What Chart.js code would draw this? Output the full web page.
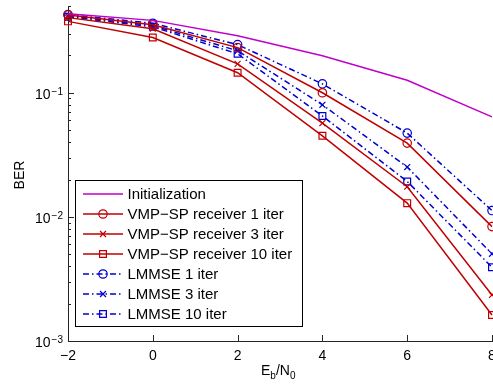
<!DOCTYPE html>
<html>
<head>
<meta charset="utf-8">
<script src="https://cdn.jsdelivr.net/npm/chart.js"></script>
<style>
    html, body { margin: 0; padding: 0; background: #fff; overflow: hidden; }
    #wrap { width: 510px; height: 384px; }
</style>
</head>
<body>
<div id="wrap"><canvas id="ber-graph" width="510" height="384"></canvas></div>
<script>
// Eb/N0 in dB
let snrDb = [-2, 0, 2, 4, 6, 8];

// BER curves
let berInit    = [0.434, 0.383, 0.288, 0.199, 0.126, 0.064];
let berVmp1    = [0.424, 0.353, 0.231, 0.100, 0.0393, 0.00835];
let berVmp3    = [0.403, 0.328, 0.171, 0.057, 0.0175, 0.00235];
let berVmp10   = [0.376, 0.279, 0.145, 0.045, 0.0129, 0.00162];
let berLmmse1  = [0.426, 0.363, 0.244, 0.118, 0.0473, 0.01125];
let berLmmse3  = [0.418, 0.347, 0.218, 0.080, 0.0252, 0.00504];
let berLmmse10 = [0.410, 0.340, 0.206, 0.065, 0.0193, 0.00393];

let yDecades = [1e-3, 1e-2, 1e-1];
let seriesLabels = [
    "Initialization",
    "VMP\u2212SP receiver 1 iter",
    "VMP\u2212SP receiver 3 iter",
    "VMP\u2212SP receiver 10 iter",
    "LMMSE 1 iter",
    "LMMSE 3 iter",
    "LMMSE 10 iter"
];

const FONT = "'Liberation Sans', Arial, Helvetica, sans-serif";
const AXIS_COLOR = "#262626";
const MAGENTA = "#c000c8";
const RED = "#c00000";
const BLUE = "#0000cd";
const DASHDOT = [6, 3, 1.5, 3];

function toPoints(vals) {
    return snrDb.map((x, i) => ({ x: x, y: vals[i] }));
}

function drawMarker(ctx, style, r, x, y) {
    ctx.beginPath();
    if (style === 'circle') {
        ctx.arc(x, y, r, 0, Math.PI * 2);
    } else if (style === 'rect') {
        let s = Math.SQRT1_2 * r;
        ctx.rect(x - s, y - s, 2 * s, 2 * s);
    } else if (style === 'crossRot') {
        let s = Math.SQRT1_2 * r;
        ctx.moveTo(x - s, y - s); ctx.lineTo(x + s, y + s);
        ctx.moveTo(x - s, y + s); ctx.lineTo(x + s, y - s);
    }
    ctx.stroke();
}

let matlabAxes = {
    id: 'matlabAxes',
    afterDraw(chart) {
        const ctx = chart.ctx;
        const xs = chart.scales.x, ys = chart.scales.y;
        const area = chart.chartArea;
        ctx.save();

        // inward tick marks
        ctx.strokeStyle = AXIS_COLOR;
        ctx.lineWidth = 1;
        ctx.setLineDash([]);
        xs.ticks.forEach(t => {
            let px = Math.round(xs.getPixelForValue(t.value)) + 0.5;
            ctx.beginPath();
            ctx.moveTo(px, area.bottom);
            ctx.lineTo(px, area.bottom - 6);
            ctx.stroke();
        });
        for (let e = -3; e <= 0; e++) {
            for (let m = 1; m <= 9; m++) {
                let v = m * Math.pow(10, e);
                if (v < ys.min * 0.999 || v > ys.max * 1.001) continue;
                let py = Math.round(ys.getPixelForValue(v)) + 0.5;
                ctx.beginPath();
                ctx.moveTo(area.left, py);
                ctx.lineTo(area.left + (m === 1 ? 6 : 3), py);
                ctx.stroke();
            }
        }

        // y tick labels 10^k
        ctx.fillStyle = "#000";
        ctx.textBaseline = 'alphabetic';
        yDecades.forEach(v => {
            let py = ys.getPixelForValue(v);
            let sup = "\u2212" + Math.round(Math.abs(Math.log10(v)));
            ctx.font = "10px " + FONT;
            let supW = ctx.measureText(sup).width;
            let right = area.left - 5;
            ctx.textAlign = 'left';
            ctx.fillText(sup, right - supW, py + 2);
            ctx.font = "14px " + FONT;
            ctx.textAlign = 'right';
            ctx.fillText("10", right - supW - 1, py + 6);
        });

        // y axis title
        ctx.save();
        ctx.translate(24, 175);
        ctx.rotate(-Math.PI / 2);
        ctx.font = "14px " + FONT;
        ctx.textAlign = 'center';
        ctx.fillText("BER", 0, 0);
        ctx.restore();

        // x axis title E_b/N_0
        let parts = [["E", 14, 0], ["b", 10, 4], ["/N", 14, 0], ["0", 10, 4]];
        let tx = 261;
        ctx.textAlign = 'left';
        parts.forEach(p => {
            ctx.font = p[1] + "px " + FONT;
            ctx.fillText(p[0], tx, 375 + p[2]);
            tx += ctx.measureText(p[0]).width;
        });

        // legend
        ctx.fillStyle = "#fff";
        ctx.fillRect(75.5, 180.5, 227, 146);
        ctx.strokeStyle = "#000";
        ctx.lineWidth = 1;
        ctx.strokeRect(75.5, 180.5, 227, 146);
        chart.data.datasets.forEach((ds, i) => {
            let ly = 194 + i * 20;
            ctx.strokeStyle = ds.borderColor;
            ctx.lineWidth = ds.borderWidth;
            ctx.setLineDash(ds.borderDash || []);
            ctx.beginPath();
            ctx.moveTo(83, ly);
            ctx.lineTo(123, ly);
            ctx.stroke();
            ctx.setLineDash([]);
            if (ds.pointRadius > 0) {
                ctx.lineWidth = ds.pointBorderWidth;
                drawMarker(ctx, ds.pointStyle, ds.pointRadius, 103, ly);
            }
            ctx.fillStyle = "#000";
            ctx.font = "15px " + FONT;
            ctx.textAlign = 'left';
            ctx.textBaseline = 'middle';
            ctx.fillText(ds.label, 127.5, ly + 1);
            ctx.textBaseline = 'alphabetic';
        });

        ctx.restore();
    }
};

let oBerGraph = {
    init: function() {
        this.cacheDom();
        this.setGraphData();
    },
    cacheDom: function() {
        this.oGraph = document.getElementById('ber-graph').getContext('2d');
    },
    series: function(label, vals, color, style, dash) {
        return {
            label: label,
            data: toPoints(vals),
            borderColor: color,
            backgroundColor: color,
            borderWidth: 1.5,
            borderDash: dash,
            fill: false,
            tension: 0,
            clip: false,
            pointStyle: style || 'circle',
            pointRadius: style ? (style === 'rect' ? 4.8 : 4.2) : 0,
            pointBorderColor: color,
            pointBackgroundColor: 'rgba(0,0,0,0)',
            pointBorderWidth: 1.2
        };
    },
    setGraphData() {
        let data = {
            datasets: [
                this.series(seriesLabels[0], berInit, MAGENTA, null, []),
                this.series(seriesLabels[1], berVmp1, RED, 'circle', []),
                this.series(seriesLabels[2], berVmp3, RED, 'crossRot', []),
                this.series(seriesLabels[3], berVmp10, RED, 'rect', []),
                this.series(seriesLabels[4], berLmmse1, BLUE, 'circle', DASHDOT),
                this.series(seriesLabels[5], berLmmse3, BLUE, 'crossRot', DASHDOT),
                this.series(seriesLabels[6], berLmmse10, BLUE, 'rect', DASHDOT)
            ]
        };

        let options = {
            responsive: false,
            animation: false,
            events: [],
            layout: { padding: { left: 0, top: 6, right: 18, bottom: 0 } },
            plugins: {
                legend: { display: false },
                tooltip: { enabled: false }
            },
            scales: {
                x: {
                    type: 'linear',
                    min: -2,
                    max: 8,
                    grid: { display: false, drawTicks: false },
                    border: { display: true, color: AXIS_COLOR, width: 1 },
                    ticks: {
                        stepSize: 2,
                        padding: 7,
                        color: "#000",
                        font: { family: FONT, size: 14 },
                        maxRotation: 0,
                        callback: v => (v < 0 ? "\u2212" + Math.abs(v) : "" + v)
                    },
                    afterFit: s => { s.height = 43; }
                },
                y: {
                    type: 'logarithmic',
                    min: 0.001,
                    max: 0.5,
                    grid: { display: false, drawTicks: false },
                    border: { display: true, color: AXIS_COLOR, width: 1 },
                    ticks: { display: false },
                    afterFit: s => { s.width = 68; }
                }
            }
        };

        this.chart = new Chart(this.oGraph, {
            type: 'line',
            data: data,
            options: options,
            plugins: [matlabAxes]
        });
    }
};

oBerGraph.init();
</script>
</body>
</html>
